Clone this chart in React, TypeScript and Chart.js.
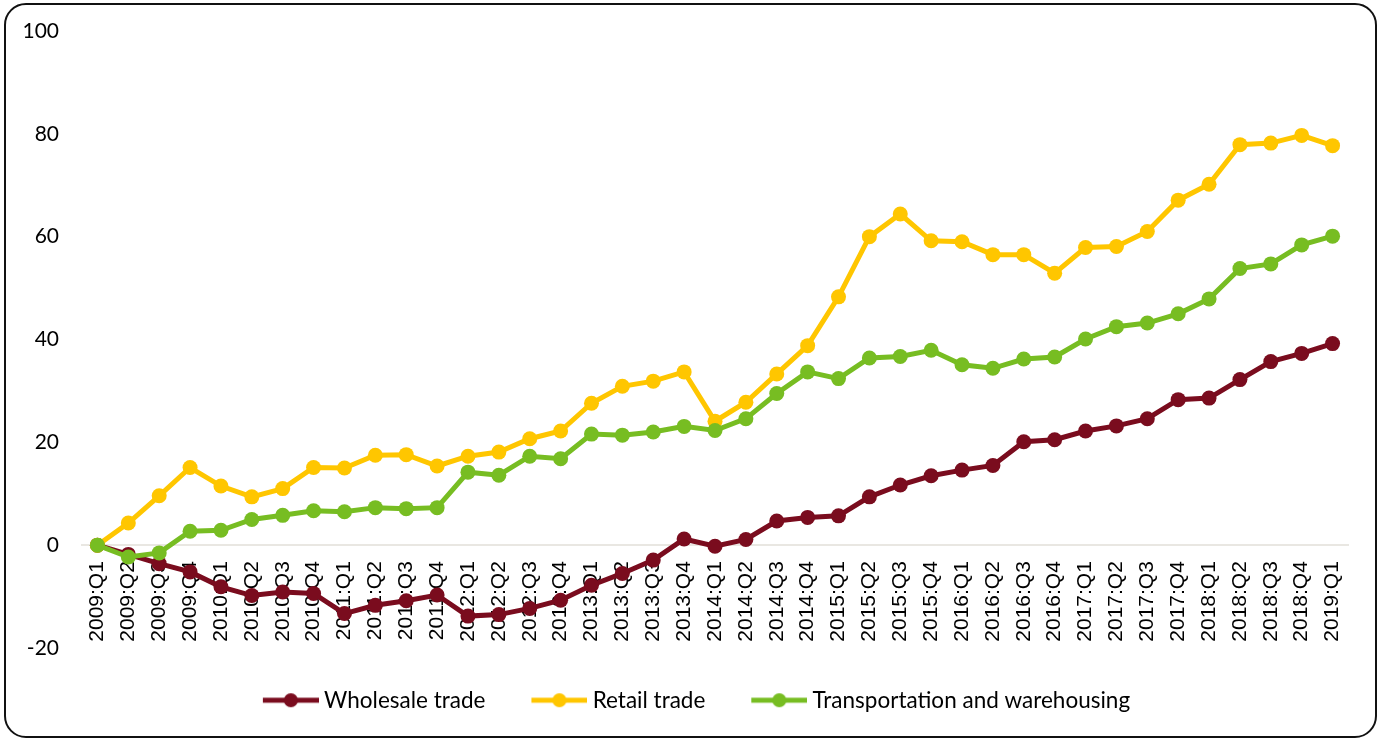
import React, { useEffect, useRef } from "react";
import { Chart, registerables } from "chart.js";

Chart.register(...registerables);

const quarters = [
  "2009:Q1", "2009:Q2", "2009:Q3", "2009:Q4",
  "2010:Q1", "2010:Q2", "2010:Q3", "2010:Q4",
  "2011:Q1", "2011:Q2", "2011:Q3", "2011:Q4",
  "2012:Q1", "2012:Q2", "2012:Q3", "2012:Q4",
  "2013:Q1", "2013:Q2", "2013:Q3", "2013:Q4",
  "2014:Q1", "2014:Q2", "2014:Q3", "2014:Q4",
  "2015:Q1", "2015:Q2", "2015:Q3", "2015:Q4",
  "2016:Q1", "2016:Q2", "2016:Q3", "2016:Q4",
  "2017:Q1", "2017:Q2", "2017:Q3", "2017:Q4",
  "2018:Q1", "2018:Q2", "2018:Q3", "2018:Q4",
  "2019:Q1",
];

const wholesale = [
  0, -1.8, -3.6, -5.2,
  -8.1, -9.8, -9.1, -9.4,
  -13.3, -11.7, -10.8, -9.7,
  -13.8, -13.5, -12.3, -10.7,
  -7.8, -5.5, -2.9, 1.2,
  -0.2, 1.1, 4.7, 5.4,
  5.7, 9.4, 11.7, 13.5,
  14.6, 15.5, 20.1, 20.5,
  22.2, 23.2, 24.6, 28.3,
  28.6, 32.2, 35.7, 37.3,
  39.2,
];

const retail = [
  0, 4.3, 9.6, 15.1,
  11.5, 9.4, 11.0, 15.1,
  15.0, 17.5, 17.6, 15.4,
  17.3, 18.1, 20.7, 22.2,
  27.6, 30.9, 31.9, 33.7,
  24.1, 27.8, 33.3, 38.8,
  48.3, 60.0, 64.4, 59.2,
  59.0, 56.5, 56.5, 52.9,
  57.9, 58.1, 61.0, 67.1,
  70.2, 77.9, 78.2, 79.7,
  77.7,
];

const transport = [
  0, -2.3, -1.5, 2.7,
  2.9, 5.0, 5.8, 6.7,
  6.5, 7.3, 7.1, 7.3,
  14.2, 13.6, 17.3, 16.8,
  21.6, 21.4, 22.0, 23.1,
  22.3, 24.6, 29.5, 33.7,
  32.4, 36.4, 36.7, 37.9,
  35.1, 34.4, 36.2, 36.6,
  40.1, 42.5, 43.2, 45.0,
  47.9, 53.8, 54.7, 58.4,
  60.1,
];

const seriesNames = ["Wholesale trade", "Retail trade", "Transportation and warehousing"];
const seriesColors = ["#7A0C1E", "#FFC600", "#77BD22"];

const yMin = -20;
const yMax = 100;
const yStep = 20;

const LEGEND_FONT = 22.5;
const LEGEND_PAD = 23;
const BOX_W = 73;
const TITLE_H = 18;

function legendIcon(color: string): HTMLCanvasElement {
  const w = BOX_W + 12;
  const h = 16;
  const c = document.createElement("canvas");
  c.width = w;
  c.height = h;
  const ctx = c.getContext("2d")!;
  ctx.strokeStyle = color;
  ctx.lineWidth = 5;
  ctx.beginPath();
  ctx.moveTo(w - 56, h / 2);
  ctx.lineTo(w, h / 2);
  ctx.stroke();
  ctx.fillStyle = color;
  ctx.beginPath();
  ctx.arc(w - 28, h / 2, 7, 0, Math.PI * 2);
  ctx.fill();
  return c;
}

export default function App() {
  const canvasRef = useRef<HTMLCanvasElement | null>(null);

  useEffect(() => {
    if (!canvasRef.current) return;
    const seriesData = [wholesale, retail, transport];
    const orders = [3, 2, 1];
    const icons = seriesColors.map((c) => legendIcon(c));
    const legendH = TITLE_H + LEGEND_FONT + LEGEND_PAD + 10;

    const chart = new Chart(canvasRef.current, {
      type: "line",
      data: {
        labels: quarters,
        datasets: seriesData.map((d, i) => ({
          label: seriesNames[i],
          data: d,
          borderColor: seriesColors[i],
          backgroundColor: seriesColors[i],
          pointBackgroundColor: seriesColors[i],
          pointBorderColor: seriesColors[i],
          pointBorderWidth: 0,
          pointRadius: 7.5,
          borderWidth: 5,
          tension: 0,
          fill: false,
          order: orders[i],
        })),
      },
      options: {
        animation: false,
        responsive: true,
        maintainAspectRatio: false,
        layout: {
          padding: { left: 22, right: 33, top: 31, bottom: 740 - 648 - legendH },
        },
        scales: {
          x: {
            type: "category",
            offset: true,
            position: { y: 0 } as any,
            grid: { display: false, drawTicks: false },
            border: { display: true, color: "#E9E7E2", width: 2 },
            ticks: {
              autoSkip: false,
              minRotation: 90,
              maxRotation: 90,
              padding: 16,
              color: "#000",
              font: { family: "'Liberation Sans', Arial, sans-serif", size: 21 },
            },
          },
          y: {
            min: yMin,
            max: yMax,
            grid: { display: false, drawTicks: true, tickLength: 23 },
            border: { display: false },
            afterFit: (scale: any) => {
              scale.width = 60;
            },
            ticks: {
              stepSize: yStep,
              padding: 0,
              color: "#000",
              font: { family: "Lato, 'Open Sans', sans-serif", size: 21 },
            },
          },
        },
        plugins: {
          tooltip: { enabled: false },
          legend: {
            position: "bottom",
            title: {
              display: true,
              text: "",
              font: { size: 1, lineHeight: 1 },
              padding: { top: TITLE_H - 1, bottom: 0 },
            },
            labels: {
              usePointStyle: true,
              pointStyleWidth: BOX_W,
              padding: LEGEND_PAD,
              color: "#000",
              font: { family: "Lato, 'Open Sans', sans-serif", size: LEGEND_FONT },
              generateLabels: () =>
                seriesNames.map((name, i) => ({
                  text: name,
                  fillStyle: seriesColors[i],
                  strokeStyle: seriesColors[i],
                  lineWidth: 0,
                  pointStyle: icons[i] as any,
                  hidden: false,
                  datasetIndex: i,
                  fontColor: "#000",
                })),
            },
          },
        },
      },
    });
    return () => chart.destroy();
  }, []);

  return (
    <div style={{ position: "fixed", left: 0, top: 0, width: 1381, height: 740, background: "#fff" }}>
      <div
        style={{
          position: "absolute",
          left: 4,
          top: 3,
          width: 1373,
          height: 735,
          border: "2px solid #111",
          borderRadius: 22,
          boxSizing: "border-box",
        }}
      />
      <div style={{ position: "absolute", left: 0, top: 0, width: 1381, height: 740 }}>
        <canvas ref={canvasRef} />
      </div>
    </div>
  );
}
